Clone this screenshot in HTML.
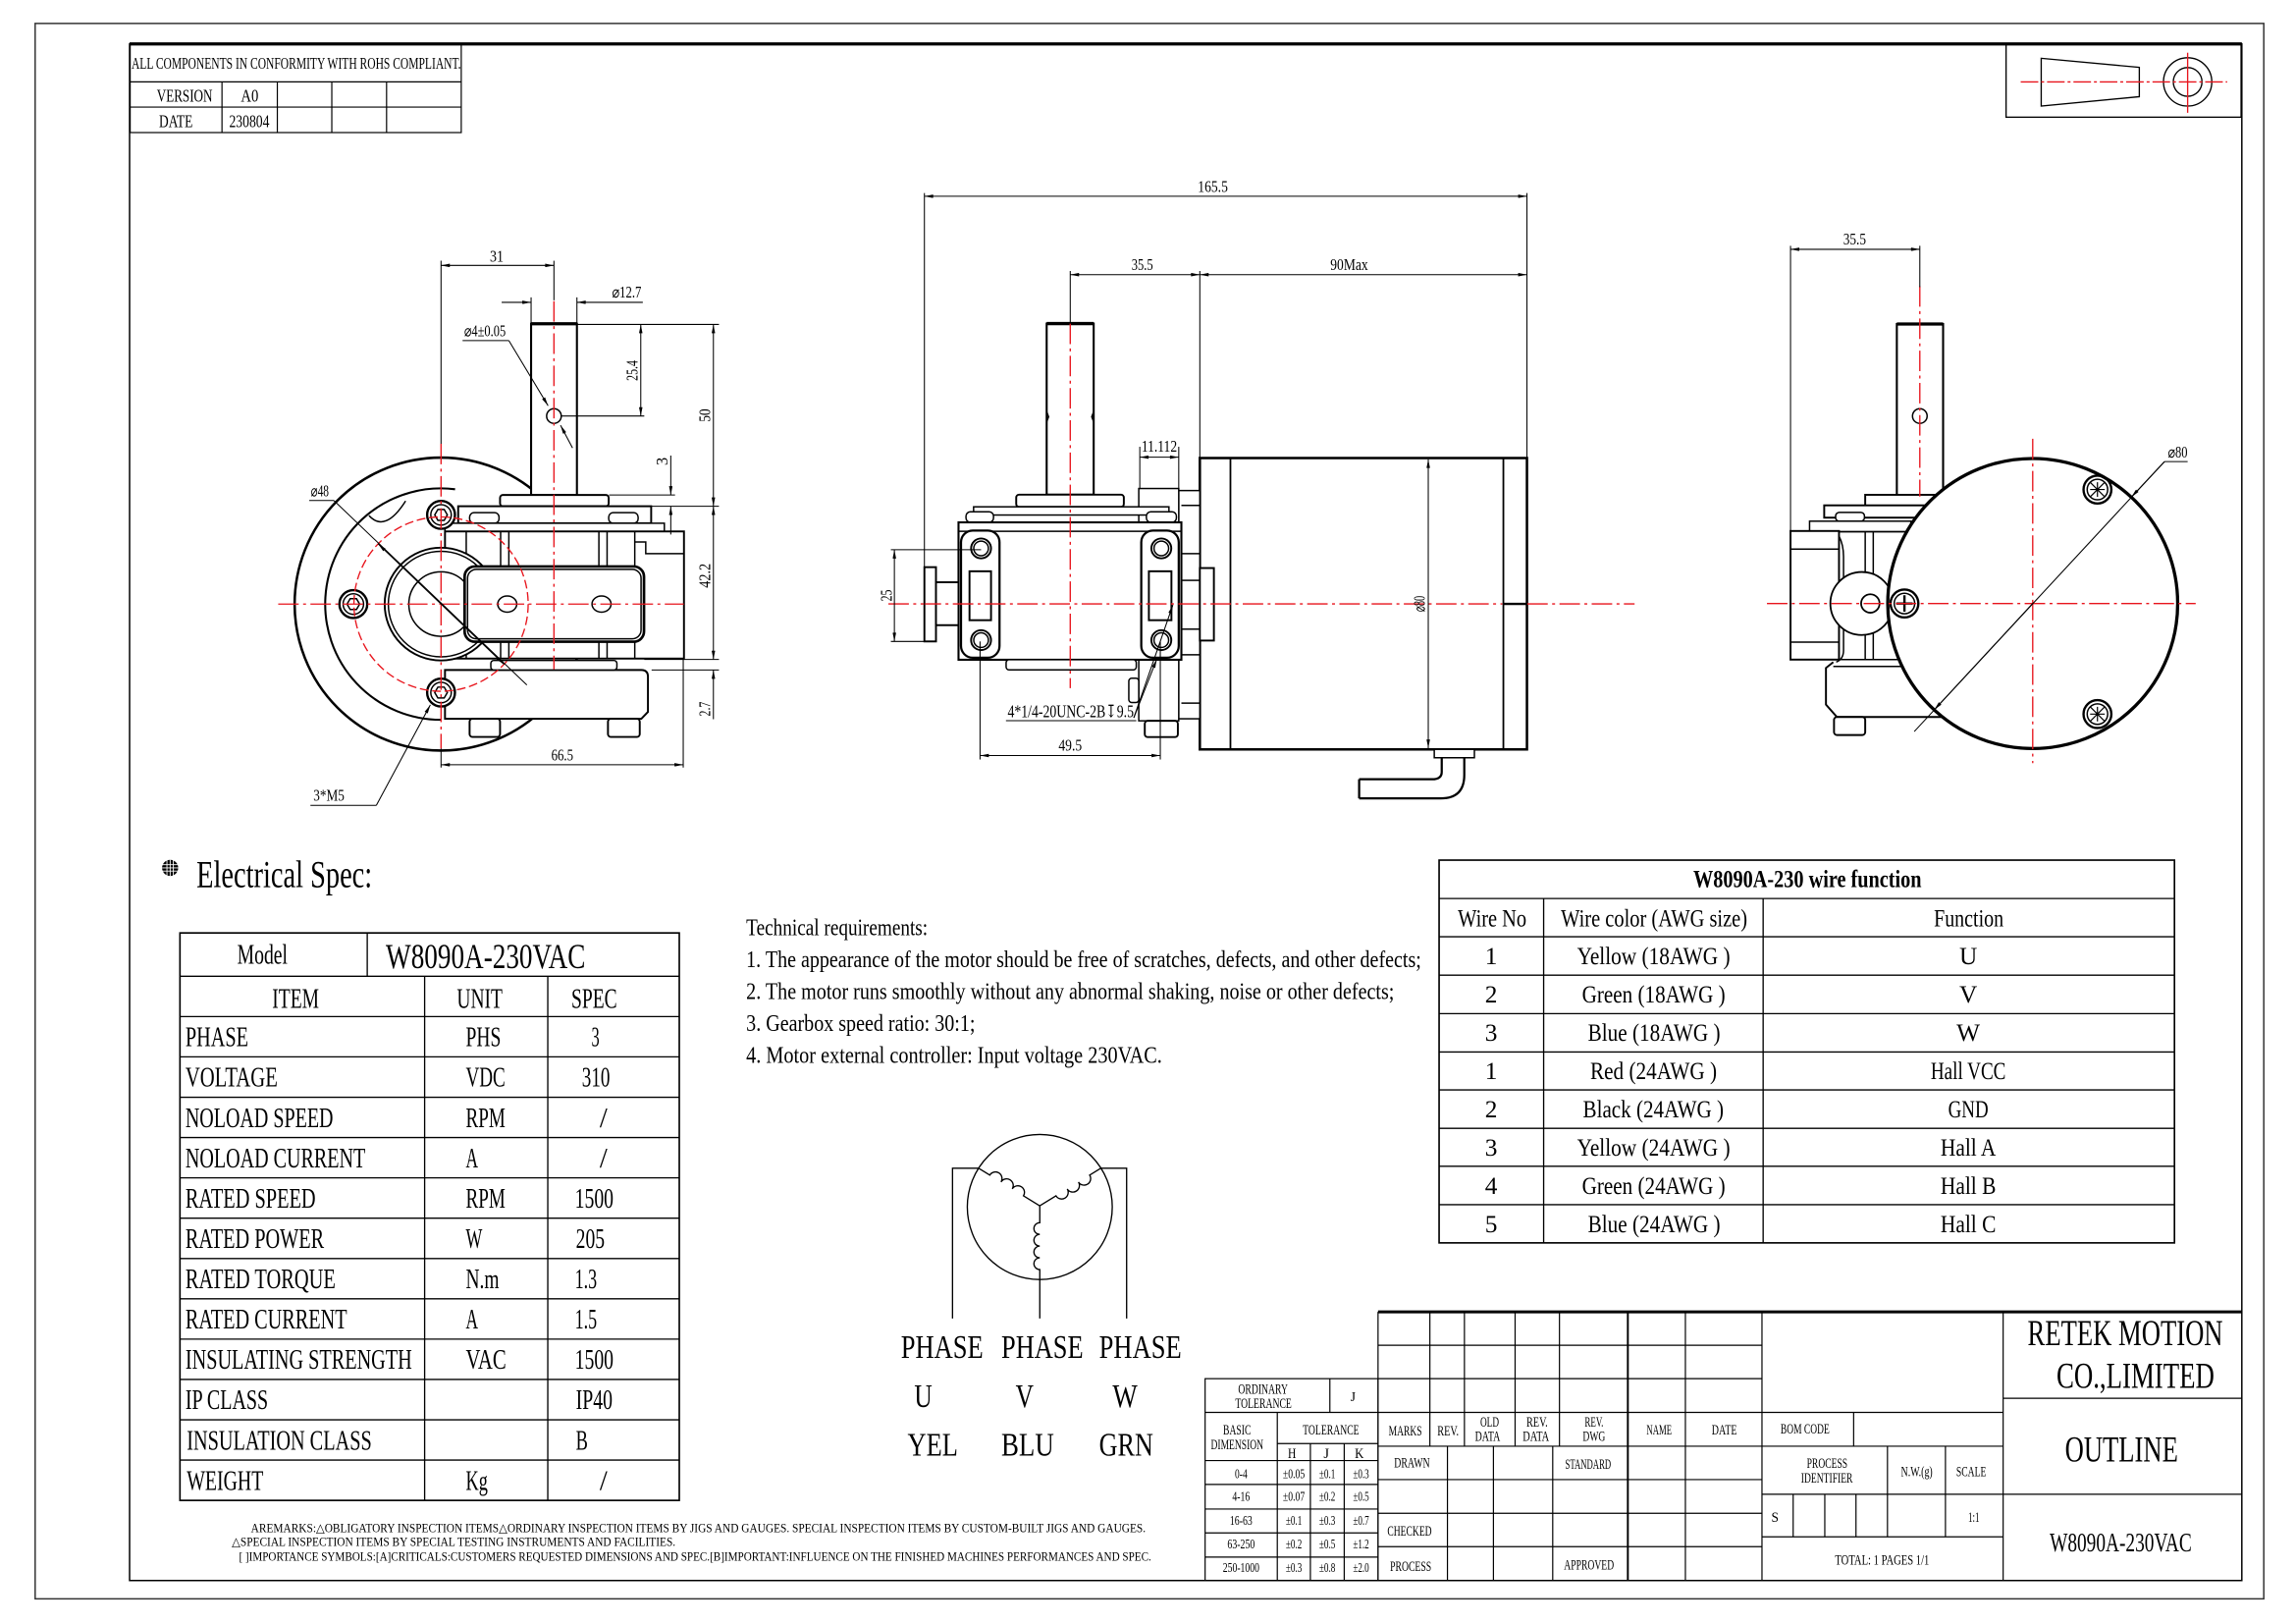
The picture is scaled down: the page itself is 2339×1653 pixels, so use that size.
<!DOCTYPE html>
<html><head><meta charset="utf-8">
<style>
html,body{margin:0;padding:0;background:#fff;}
svg{display:block;}
text{font-family:"Liberation Serif","DejaVu Serif",serif;fill:#000;stroke:none;}
.r{stroke:#e8141c;stroke-width:0.9;fill:none;stroke-dasharray:14 3 2 3;}
</style></head><body>
<svg xmlns="http://www.w3.org/2000/svg" width="2339" height="1653" viewBox="0 0 1568 1108" preserveAspectRatio="none">
<defs>
<marker id="ar" viewBox="0 0 10 4" refX="10" refY="2" markerWidth="7" markerHeight="2.4" markerUnits="userSpaceOnUse" orient="auto-start-reverse"><path d="M0,0L10,2L0,4z" fill="#000"/></marker>
</defs>
<rect x="0" y="0" width="1568" height="1108" fill="#fff"/>
<!-- frames -->
<rect x="24" y="16" width="1522" height="1075.5" fill="none" stroke="#333" stroke-width="1"/>
<rect x="88.5" y="30" width="1442.5" height="1049" fill="none" stroke="#000" stroke-width="1"/>
<line x1="88.5" y1="30" x2="1531" y2="30" stroke="#000" stroke-width="2.2"/>

<!-- top-left table -->
<g stroke="#000" stroke-width="0.8" fill="none">
<rect x="88.9" y="29.7" width="226.1" height="60.8"/>
<line x1="88.9" y1="55.9" x2="315" y2="55.9"/>
<line x1="88.9" y1="73.1" x2="315" y2="73.1"/>
<line x1="151.6" y1="55.9" x2="151.6" y2="90.5"/>
<line x1="189.4" y1="55.9" x2="189.4" y2="90.5"/>
<line x1="226.6" y1="55.9" x2="226.6" y2="90.5"/>
<line x1="264" y1="55.9" x2="264" y2="90.5"/>
</g>
<text x="89.8" y="47" font-size="11" textLength="225" lengthAdjust="spacingAndGlyphs">ALL COMPONENTS IN CONFORMITY WITH ROHS COMPLIANT.</text>
<text x="107.1" y="69.3" font-size="12" textLength="38" lengthAdjust="spacingAndGlyphs">VERSION</text>
<text x="164.5" y="69.3" font-size="12" textLength="12" lengthAdjust="spacingAndGlyphs">A0</text>
<text x="108.6" y="86.7" font-size="12" textLength="23" lengthAdjust="spacingAndGlyphs">DATE</text>
<text x="156.5" y="86.7" font-size="12" textLength="27.5" lengthAdjust="spacingAndGlyphs">230804</text>

<!-- top-right projection symbol -->
<g stroke="#000" stroke-width="0.9" fill="none">
<rect x="1370" y="29.7" width="160.5" height="50.3"/>
<path d="M1394,39.8 L1461,46 L1461,66 L1394,72.4 Z"/>
<circle cx="1494" cy="55.9" r="16.5"/>
<circle cx="1494" cy="55.9" r="9.8"/>
</g>
<line class="r" x1="1380" y1="55.9" x2="1521" y2="55.9" style="stroke-dasharray:12 2 2 2"/>
<line class="r" x1="1494" y1="36" x2="1494" y2="77" style="stroke-dasharray:none"/>

<!-- ================= LEFT VIEW ================= -->
<g stroke="#000" fill="none" stroke-width="1">
<circle cx="301.2" cy="412.4" r="100" fill="#fff" stroke-width="1.7"/>
<path d="M310.8,334 A79,79 0 1 0 301.2,491.4" stroke-width="1.4"/>
<path d="M252,352 Q263,364 277,342"/>
<!-- body -->
<rect x="362.7" y="221" width="31.3" height="116.9" fill="#fff" stroke-width="1.4"/>
<line x1="362.7" y1="221" x2="394" y2="221" stroke-width="2.2"/>
<rect x="341.5" y="337.9" width="74.2" height="7.7" rx="2" fill="#fff" stroke-width="1.3"/>
<rect x="312.9" y="345.6" width="131.8" height="11.6" fill="#fff" stroke-width="1.3"/>
<rect x="320.7" y="350" width="20.1" height="7.2" rx="3" fill="#fff"/>
<rect x="415.7" y="350" width="20.1" height="7.2" rx="3" fill="#fff"/>
<rect x="303.9" y="357.2" width="149.8" height="5.6" fill="#fff"/>
<rect x="303.9" y="362.8" width="163.2" height="86.8" fill="#fff" stroke-width="1.3"/>
<line x1="318.4" y1="362.8" x2="318.4" y2="449.6"/>
<line x1="341.9" y1="362.8" x2="341.9" y2="449.6"/>
<line x1="347.5" y1="362.8" x2="347.5" y2="449.6"/>
<line x1="409" y1="362.8" x2="409" y2="449.6"/>
<line x1="414.6" y1="362.8" x2="414.6" y2="449.6"/>
<line x1="433.5" y1="362.8" x2="433.5" y2="449.6"/>
<path d="M433.5,370 H441 V378 H467"/>
<path d="M303.9,457.4 H438 Q442.5,457.4 442.5,462 V486 L438,490.7 H303.9 Z" fill="#fff" stroke-width="1.3"/>
<rect x="335.2" y="450.9" width="86.1" height="6.5" rx="2" fill="#fff"/>
<rect x="320.7" y="490.7" width="20.8" height="12.4" rx="2" fill="#fff" stroke-width="1.3"/>
<rect x="415.2" y="490.7" width="21.7" height="12.4" rx="2" fill="#fff" stroke-width="1.3"/>
<!-- hub -->
<circle cx="301.2" cy="412.4" r="38.5" fill="#fff" stroke-width="1.3"/>
<circle cx="301.2" cy="412.4" r="36"/>
<circle cx="301.2" cy="412.4" r="22"/>
<!-- side plate -->
<rect x="317.3" y="386.7" width="122.5" height="51.4" rx="7" fill="#fff" stroke-width="1.8"/>
<rect x="319.3" y="388.7" width="118.5" height="47.4" rx="6"/>
<ellipse cx="346.4" cy="412.4" rx="6.5" ry="5.5"/>
<ellipse cx="410.8" cy="412.4" rx="6.5" ry="5.5"/>
<!-- bolt holes -->
<circle cx="301.2" cy="351.5" r="9.5" fill="#fff" stroke-width="1.6"/>
<circle cx="301.2" cy="351.5" r="7"/>
<polygon points="305.5,351.5 303.35,355.22 299.05,355.22 296.9,351.5 299.05,347.78 303.35,347.78"/>
<circle cx="241.3" cy="412.4" r="9.5" fill="#fff" stroke-width="1.6"/>
<circle cx="241.3" cy="412.4" r="7"/>
<polygon points="245.6,412.4 243.45,416.12 239.15,416.12 237,412.4 239.15,408.68 243.45,408.68"/>
<circle cx="301.2" cy="472.8" r="9.5" fill="#fff" stroke-width="1.6"/>
<circle cx="301.2" cy="472.8" r="7"/>
<polygon points="305.5,472.8 303.35,476.52 299.05,476.52 296.9,472.8 299.05,469.08 303.35,469.08"/>
<circle cx="378.3" cy="284" r="5"/>
</g>
<circle cx="301.2" cy="412.4" r="59.5" fill="none" stroke="#e8141c" stroke-width="0.9" stroke-dasharray="6 2.5"/>
<line class="r" x1="190" y1="412.4" x2="467" y2="412.4"/>
<line class="r" x1="301.2" y1="303" x2="301.2" y2="511"/>
<line class="r" x1="378.3" y1="205.6" x2="378.3" y2="457"/>
<!-- left view dims -->
<g stroke="#000" stroke-width="0.7" fill="none">
<line x1="301.2" y1="178" x2="301.2" y2="303"/>
<line x1="378.3" y1="178" x2="378.3" y2="205"/>
<line x1="301.2" y1="181.2" x2="378.3" y2="181.2" marker-start="url(#ar)" marker-end="url(#ar)"/>
<line x1="362.7" y1="203" x2="362.7" y2="221"/>
<line x1="394" y1="203" x2="394" y2="221"/>
<line x1="342.6" y1="206.4" x2="362.7" y2="206.4" marker-end="url(#ar)"/>
<line x1="439" y1="206.4" x2="394" y2="206.4" marker-end="url(#ar)"/>
<line x1="315.9" y1="232.5" x2="347.5" y2="232.5"/>
<line x1="347.5" y1="232.5" x2="374.3" y2="277" marker-end="url(#ar)"/>
<line x1="391" y1="305.8" x2="382.8" y2="290.3" marker-end="url(#ar)"/>
<line x1="394" y1="221.5" x2="491" y2="221.5"/>
<line x1="383" y1="284" x2="440" y2="284"/>
<line x1="437.6" y1="221.5" x2="437.6" y2="284" marker-start="url(#ar)" marker-end="url(#ar)"/>
<line x1="487.2" y1="221.5" x2="487.2" y2="345.6" marker-start="url(#ar)" marker-end="url(#ar)"/>
<line x1="416" y1="337.9" x2="461" y2="337.9"/>
<line x1="445" y1="345.6" x2="491" y2="345.6"/>
<line x1="458.1" y1="311" x2="458.1" y2="337.9" marker-end="url(#ar)"/>
<line x1="458.1" y1="364.9" x2="458.1" y2="345.6" marker-end="url(#ar)"/>
<line x1="487.2" y1="345.6" x2="487.2" y2="450.2" marker-start="url(#ar)" marker-end="url(#ar)"/>
<line x1="440" y1="450.2" x2="491" y2="450.2"/>
<line x1="445" y1="457.4" x2="491" y2="457.4"/>
<line x1="487.2" y1="491" x2="487.2" y2="457.4" marker-end="url(#ar)"/>
<line x1="466.6" y1="449.6" x2="466.6" y2="524"/>
<line x1="301.2" y1="511" x2="301.2" y2="524"/>
<line x1="301.2" y1="522.1" x2="466.6" y2="522.1" marker-start="url(#ar)" marker-end="url(#ar)"/>
<line x1="211.2" y1="341.7" x2="228" y2="341.7"/>
<line x1="228" y1="341.7" x2="359.8" y2="467.6"/>
<line x1="301.2" y1="412.4" x2="258.2" y2="371.3" marker-end="url(#ar)"/>
<line x1="301.2" y1="412.4" x2="344.2" y2="453.5" marker-end="url(#ar)"/>
<line x1="212" y1="549.8" x2="257" y2="549.8"/>
<line x1="257" y1="549.8" x2="293.9" y2="481.2" marker-end="url(#ar)"/>
</g>
<text x="339.2" y="178.5" font-size="11.5" text-anchor="middle" textLength="9.4" lengthAdjust="spacingAndGlyphs">31</text>
<text x="418" y="203" font-size="11" textLength="20" lengthAdjust="spacingAndGlyphs">⌀12.7</text>
<text x="317" y="229.5" font-size="11" textLength="28.4" lengthAdjust="spacingAndGlyphs">⌀4±0.05</text>
<text transform="translate(435.5,253) rotate(-90)" font-size="11" text-anchor="middle" textLength="14" lengthAdjust="spacingAndGlyphs">25.4</text>
<text transform="translate(485,283.6) rotate(-90)" font-size="11" text-anchor="middle" textLength="9" lengthAdjust="spacingAndGlyphs">50</text>
<text transform="translate(456,315) rotate(-90)" font-size="11" text-anchor="middle">3</text>
<text transform="translate(485,393) rotate(-90)" font-size="11" text-anchor="middle" textLength="16.7" lengthAdjust="spacingAndGlyphs">42.2</text>
<text transform="translate(485,484) rotate(-90)" font-size="11" text-anchor="middle" textLength="10" lengthAdjust="spacingAndGlyphs">2.7</text>
<text x="384" y="519" font-size="11.5" text-anchor="middle" textLength="15" lengthAdjust="spacingAndGlyphs">66.5</text>
<text x="212.3" y="339" font-size="11" textLength="12.3" lengthAdjust="spacingAndGlyphs">⌀48</text>
<text x="214" y="546.5" font-size="11.5" textLength="21.2" lengthAdjust="spacingAndGlyphs">3*M5</text>

<!-- ================= MIDDLE VIEW ================= -->
<g stroke="#000" fill="none" stroke-width="1">
<rect x="819.4" y="312.7" width="223.4" height="198.9" fill="#fff" stroke-width="1.7"/>
<line x1="840.3" y1="312.7" x2="840.3" y2="511.6" stroke-width="1.2"/>
<line x1="1026.7" y1="312.7" x2="1026.7" y2="511.6" stroke-width="1.2"/>
<rect x="979.5" y="511.6" width="27.4" height="5.7" fill="#fff"/>
<path d="M1000,517.3 V529 Q1000,545 984,545 H928.2 M984.6,517.3 V527 Q984.6,532 978,532 H928.2 M928.2,532 V545" stroke-width="1.5"/>
<rect x="805" y="334.9" width="14.4" height="155.8" fill="#fff"/>
<line x1="806.8" y1="345" x2="819.4" y2="345"/>
<line x1="806.8" y1="378" x2="819.4" y2="378"/>
<line x1="806.8" y1="447" x2="819.4" y2="447"/>
<line x1="806.8" y1="480" x2="819.4" y2="480"/>
<rect x="777.7" y="333.5" width="27.3" height="23.7" fill="#fff"/>
<rect x="777.7" y="450.4" width="27.3" height="41.7" fill="#fff"/>
<rect x="781.8" y="492.1" width="22.6" height="11.1" rx="2" fill="#fff" stroke-width="1.3"/>
<rect x="806.8" y="396.2" width="12.6" height="33.3" fill="#fff"/>
<rect x="819.4" y="387.8" width="9.6" height="49.5" fill="#fff" stroke-width="1.3"/>
<rect x="770.9" y="463" width="6.8" height="16.6" rx="2" fill="#fff"/>
<rect x="714.8" y="220.9" width="32.1" height="116.8" fill="#fff" stroke-width="1.4"/>
<line x1="714.8" y1="220.9" x2="746.9" y2="220.9" stroke-width="2.2"/>
<path d="M714.8,281 l1.3,3.5 l-1.3,3.5 M746.9,281 l-1.3,3.5 l1.3,3.5"/>
<rect x="694" y="337.7" width="73.5" height="8.3" rx="2" fill="#fff" stroke-width="1.3"/>
<rect x="664.9" y="346" width="133.4" height="5.6" fill="#fff"/>
<rect x="659.7" y="349.4" width="18.8" height="7.2" rx="3" fill="#fff"/>
<rect x="782.9" y="349.4" width="20.5" height="7.2" rx="3" fill="#fff"/>
<rect x="654.6" y="356.6" width="152.2" height="93.8" fill="#fff" stroke-width="1.4"/>
<line x1="654.6" y1="362.7" x2="806.8" y2="362.7"/>
<rect x="656.3" y="362.2" width="26.3" height="86.8" rx="8" fill="#fff" stroke-width="1.5"/>
<rect x="779.4" y="362.2" width="25.6" height="86.8" rx="8" fill="#fff" stroke-width="1.5"/>
<circle cx="670" cy="374.4" r="6.8" stroke-width="1.3"/><circle cx="670" cy="374.4" r="5"/>
<circle cx="670" cy="437" r="6.8" stroke-width="1.3"/><circle cx="670" cy="437" r="5"/>
<circle cx="793.1" cy="374.4" r="6.8" stroke-width="1.3"/><circle cx="793.1" cy="374.4" r="5"/>
<circle cx="793.1" cy="437" r="6.8" stroke-width="1.3"/><circle cx="793.1" cy="437" r="5"/>
<rect x="662.1" y="390" width="14.7" height="33.4" stroke-width="1.3"/>
<rect x="784.6" y="390" width="15.4" height="33.4" stroke-width="1.3"/>
<rect x="687.1" y="450.4" width="88.9" height="6.9" rx="2" fill="#fff"/>
<rect x="631.3" y="387.2" width="7.9" height="50.7" fill="#fff" stroke-width="1.3"/>
<rect x="639.2" y="397.5" width="15.4" height="29.3" fill="#fff" stroke-width="1.3"/>
<line x1="1026.7" y1="412.3" x2="1042.8" y2="412.3" stroke-width="1.6"/>
</g>
<line class="r" x1="730.9" y1="220.9" x2="730.9" y2="469.8"/>
<line class="r" x1="606.7" y1="412.3" x2="1026" y2="412.3"/>
<line class="r" x1="1043" y1="412.3" x2="1116.3" y2="412.3"/>
<g stroke="#000" stroke-width="0.7" fill="none">
<line x1="631.3" y1="131.8" x2="631.3" y2="437.9"/>
<line x1="1042.8" y1="131.8" x2="1042.8" y2="312.7"/>
<line x1="631.3" y1="134" x2="1042.8" y2="134" marker-start="url(#ar)" marker-end="url(#ar)"/>
<line x1="730.9" y1="185" x2="730.9" y2="221"/>
<line x1="819.4" y1="185" x2="819.4" y2="312.7"/>
<line x1="730.9" y1="187.5" x2="819.4" y2="187.5" marker-start="url(#ar)" marker-end="url(#ar)"/>
<line x1="819.4" y1="187.5" x2="1042.8" y2="187.5" marker-start="url(#ar)" marker-end="url(#ar)"/>
<line x1="778.4" y1="305" x2="778.4" y2="334"/>
<line x1="805" y1="305" x2="805" y2="334"/>
<line x1="778.4" y1="312.1" x2="805" y2="312.1" marker-start="url(#ar)" marker-end="url(#ar)"/>
<line x1="608.4" y1="375.3" x2="670" y2="375.3"/>
<line x1="608.4" y1="437.9" x2="631.3" y2="437.9"/>
<line x1="610.8" y1="375.3" x2="610.8" y2="437.9" marker-start="url(#ar)" marker-end="url(#ar)"/>
<line x1="975.4" y1="313.5" x2="975.4" y2="510.8" marker-start="url(#ar)" marker-end="url(#ar)"/>
<line x1="669.3" y1="437.9" x2="669.3" y2="518.5"/>
<line x1="792.4" y1="437.9" x2="792.4" y2="518.5"/>
<line x1="669.3" y1="515.8" x2="792.4" y2="515.8" marker-start="url(#ar)" marker-end="url(#ar)"/>
<line x1="687" y1="492" x2="776" y2="492"/>
<line x1="774.3" y1="490" x2="801" y2="413" marker-end="url(#ar)"/>
<line x1="774.3" y1="490" x2="790" y2="450" marker-end="url(#ar)"/>
</g>
<text x="828.3" y="131" font-size="11.5" text-anchor="middle" textLength="20.5" lengthAdjust="spacingAndGlyphs">165.5</text>
<text x="780.1" y="184.5" font-size="11.5" text-anchor="middle" textLength="14.7" lengthAdjust="spacingAndGlyphs">35.5</text>
<text x="921.4" y="184.5" font-size="11.5" text-anchor="middle" textLength="25.7" lengthAdjust="spacingAndGlyphs">90Max</text>
<text x="791.7" y="308.5" font-size="11" text-anchor="middle" textLength="24.3" lengthAdjust="spacingAndGlyphs">11.112</text>
<text transform="translate(609,406.5) rotate(-90)" font-size="11" text-anchor="middle" textLength="8" lengthAdjust="spacingAndGlyphs">25</text>
<text transform="translate(973,412.3) rotate(-90)" font-size="11" text-anchor="middle" textLength="11" lengthAdjust="spacingAndGlyphs">⌀80</text>
<text x="730.9" y="512.5" font-size="11.5" text-anchor="middle" textLength="16" lengthAdjust="spacingAndGlyphs">49.5</text>
<text x="688.1" y="489.5" font-size="12" textLength="86.2" lengthAdjust="spacingAndGlyphs">4*1/4-20UNC-2B↧9.5</text>

<!-- ================= RIGHT VIEW ================= -->
<g stroke="#000" fill="none" stroke-width="1">
<rect x="1295.4" y="221.2" width="31.6" height="117.8" fill="#fff" stroke-width="1.4"/>
<line x1="1295.4" y1="221.2" x2="1327" y2="221.2" stroke-width="2.2"/>
<circle cx="1311.1" cy="284" r="5"/>
<rect x="1273.8" y="337.8" width="53.6" height="8.4" fill="#fff" stroke-width="1.3"/>
<rect x="1245.8" y="345" width="70.4" height="8.4" fill="#fff" stroke-width="1.3"/>
<rect x="1253.6" y="349.8" width="19.7" height="6" rx="2.5" fill="#fff"/>
<rect x="1235.8" y="355.8" width="69.2" height="7.2" fill="#fff"/>
<rect x="1222.8" y="362.5" width="33.1" height="87.8" fill="#fff" stroke-width="1.3"/>
<line x1="1222.8" y1="374.9" x2="1255.9" y2="374.9"/>
<line x1="1222.8" y1="438.4" x2="1255.9" y2="438.4"/>
<path d="M1255.9,363 H1320 M1255.9,450.3 H1320" />
<line x1="1273.8" y1="363" x2="1273.8" y2="450.3"/>
<line x1="1279.3" y1="363" x2="1279.3" y2="450.3"/>
<path d="M1255.9,366 Q1259,372 1259,380 V444 Q1259,450 1254,452"/>
<circle cx="1271.5" cy="412" r="21.5" fill="#fff" stroke-width="1.2"/>
<circle cx="1277.3" cy="412" r="6.3" stroke-width="1.2"/>
<path d="M1252,452 L1247,456 V481 L1254.5,489.5 H1330" fill="#fff" stroke-width="1.3"/>
<line x1="1252" y1="455" x2="1320" y2="455"/>
<rect x="1252.5" y="489.5" width="21.3" height="12.3" rx="2" fill="#fff" stroke-width="1.3"/>
<circle cx="1388.2" cy="412" r="99" fill="#fff" stroke-width="2.2"/>
<circle cx="1432.4" cy="334.2" r="9.5" stroke-width="1.6"/><circle cx="1432.4" cy="334.2" r="7"/>
<path d="M1427.5,329.3 L1437.3,339.1 M1437.3,329.3 L1427.5,339.1 M1427.4,334.2 H1437.4 M1432.4,329.2 V339.2" stroke-width="0.8"/>
<circle cx="1432.4" cy="487.5" r="9.5" stroke-width="1.6"/><circle cx="1432.4" cy="487.5" r="7"/>
<path d="M1427.5,482.6 L1437.3,492.4 M1437.3,482.6 L1427.5,492.4 M1427.4,487.5 H1437.4 M1432.4,482.5 V492.5" stroke-width="0.8"/>
<circle cx="1300.6" cy="412" r="9.5" fill="#fff" stroke-width="1.6"/><circle cx="1300.6" cy="412" r="7"/>
<path d="M1295,412 H1306.2 M1300.6,406.4 V417.6" stroke-width="1.6"/>
</g>
<line class="r" x1="1311.1" y1="195.4" x2="1311.1" y2="339"/>
<line class="r" x1="1388.2" y1="299.5" x2="1388.2" y2="521"/>
<line class="r" x1="1206.7" y1="412" x2="1499.5" y2="412"/>
<g stroke="#000" stroke-width="0.7" fill="none">
<line x1="1222.8" y1="167.8" x2="1222.8" y2="362.5"/>
<line x1="1311.1" y1="167.8" x2="1311.1" y2="196"/>
<line x1="1222.8" y1="170.2" x2="1311.1" y2="170.2" marker-start="url(#ar)" marker-end="url(#ar)"/>
<line x1="1307.3" y1="499.4" x2="1478.2" y2="315.1"/>
<line x1="1478.2" y1="315.1" x2="1494" y2="315.1"/>
<line x1="1478.2" y1="315.1" x2="1455.5" y2="339.4" marker-end="url(#ar)"/>
<line x1="1388.2" y1="412" x2="1320.9" y2="484.6" marker-end="url(#ar)"/>
</g>
<text x="1266.6" y="167" font-size="11.5" text-anchor="middle" textLength="15.6" lengthAdjust="spacingAndGlyphs">35.5</text>
<text x="1480.5" y="312.5" font-size="11" textLength="13.4" lengthAdjust="spacingAndGlyphs">⌀80</text>

<!-- ================= ELECTRICAL SPEC ================= -->
<circle cx="116.2" cy="592.5" r="5.5" fill="#000"/>
<g stroke="#fff" stroke-width="0.6">
<line x1="110.7" y1="590.3" x2="121.7" y2="590.3"/><line x1="110.7" y1="592.5" x2="121.7" y2="592.5"/><line x1="110.7" y1="594.7" x2="121.7" y2="594.7"/>
<line x1="114" y1="587" x2="114" y2="598"/><line x1="116.2" y1="587" x2="116.2" y2="598"/><line x1="118.4" y1="587" x2="118.4" y2="598"/>
</g>
<text x="134.2" y="605.5" font-size="26" textLength="120" lengthAdjust="spacingAndGlyphs">Electrical Spec:</text>
<g stroke="#000" stroke-width="0.9" fill="none">
<rect x="122.9" y="636.9" width="341" height="387.4" stroke-width="1.1"/>
<line x1="122.9" y1="666.5" x2="463.9" y2="666.5"/>
<line x1="122.9" y1="694" x2="463.9" y2="694"/>
<line x1="122.9" y1="721.5" x2="463.9" y2="721.5"/>
<line x1="122.9" y1="749.1" x2="463.9" y2="749.1"/>
<line x1="122.9" y1="776.6" x2="463.9" y2="776.6"/>
<line x1="122.9" y1="804.1" x2="463.9" y2="804.1"/>
<line x1="122.9" y1="831.6" x2="463.9" y2="831.6"/>
<line x1="122.9" y1="859.2" x2="463.9" y2="859.2"/>
<line x1="122.9" y1="886.7" x2="463.9" y2="886.7"/>
<line x1="122.9" y1="914.2" x2="463.9" y2="914.2"/>
<line x1="122.9" y1="941.7" x2="463.9" y2="941.7"/>
<line x1="122.9" y1="969.3" x2="463.9" y2="969.3"/>
<line x1="122.9" y1="996.8" x2="463.9" y2="996.8"/>
<line x1="250.8" y1="636.9" x2="250.8" y2="666.5"/>
<line x1="290" y1="666.5" x2="290" y2="1024.3"/>
<line x1="374.1" y1="666.5" x2="374.1" y2="1024.3"/>
</g>
<g font-size="19">
<text x="162" y="658" textLength="34.4" lengthAdjust="spacingAndGlyphs">Model</text>
<text x="263.5" y="661" font-size="24" textLength="136.3" lengthAdjust="spacingAndGlyphs">W8090A-230VAC</text>
<text x="185.9" y="688" textLength="32" lengthAdjust="spacingAndGlyphs">ITEM</text>
<text x="312" y="688" textLength="31.2" lengthAdjust="spacingAndGlyphs">UNIT</text>
<text x="390.2" y="688" textLength="31.2" lengthAdjust="spacingAndGlyphs">SPEC</text>
<text x="126.6" y="714.3" textLength="43" lengthAdjust="spacingAndGlyphs">PHASE</text>
<text x="126.6" y="741.8" textLength="63" lengthAdjust="spacingAndGlyphs">VOLTAGE</text>
<text x="126.6" y="769.4" textLength="101" lengthAdjust="spacingAndGlyphs">NOLOAD SPEED</text>
<text x="126.6" y="796.9" textLength="123" lengthAdjust="spacingAndGlyphs">NOLOAD CURRENT</text>
<text x="126.6" y="824.4" textLength="89" lengthAdjust="spacingAndGlyphs">RATED SPEED</text>
<text x="126.6" y="851.9" textLength="94.7" lengthAdjust="spacingAndGlyphs">RATED POWER</text>
<text x="126.6" y="879.5" textLength="102.6" lengthAdjust="spacingAndGlyphs">RATED TORQUE</text>
<text x="126.6" y="907" textLength="110.5" lengthAdjust="spacingAndGlyphs">RATED CURRENT</text>
<text x="126.6" y="934.5" textLength="154.8" lengthAdjust="spacingAndGlyphs">INSULATING STRENGTH</text>
<text x="126.6" y="962" textLength="56.5" lengthAdjust="spacingAndGlyphs">IP CLASS</text>
<text x="127.5" y="989.6" textLength="126.4" lengthAdjust="spacingAndGlyphs">INSULATION CLASS</text>
<text x="127.5" y="1017.1" textLength="52.4" lengthAdjust="spacingAndGlyphs">WEIGHT</text>
<text x="318.1" y="714.3" textLength="24" lengthAdjust="spacingAndGlyphs">PHS</text>
<text x="318.1" y="741.8" textLength="27" lengthAdjust="spacingAndGlyphs">VDC</text>
<text x="318.1" y="769.4" textLength="27" lengthAdjust="spacingAndGlyphs">RPM</text>
<text x="318.1" y="796.9" textLength="8.4" lengthAdjust="spacingAndGlyphs">A</text>
<text x="318.1" y="824.4" textLength="27" lengthAdjust="spacingAndGlyphs">RPM</text>
<text x="318.1" y="851.9" textLength="11.3" lengthAdjust="spacingAndGlyphs">W</text>
<text x="318.1" y="879.5" textLength="22.8" lengthAdjust="spacingAndGlyphs">N.m</text>
<text x="318.1" y="907" textLength="8.4" lengthAdjust="spacingAndGlyphs">A</text>
<text x="318.1" y="934.5" textLength="27.6" lengthAdjust="spacingAndGlyphs">VAC</text>
<text x="318.1" y="1017.1" textLength="15" lengthAdjust="spacingAndGlyphs">Kg</text>
<text x="403.9" y="714.3" textLength="5.5" lengthAdjust="spacingAndGlyphs">3</text>
<text x="397.4" y="741.8" textLength="19.2" lengthAdjust="spacingAndGlyphs">310</text>
<text x="409.5" y="769.4">/</text>
<text x="409.5" y="796.9">/</text>
<text x="392.6" y="824.4" textLength="26.4" lengthAdjust="spacingAndGlyphs">1500</text>
<text x="393.3" y="851.9" textLength="19.7" lengthAdjust="spacingAndGlyphs">205</text>
<text x="392.6" y="879.5" textLength="15.1" lengthAdjust="spacingAndGlyphs">1.3</text>
<text x="392.6" y="907" textLength="15.1" lengthAdjust="spacingAndGlyphs">1.5</text>
<text x="392.6" y="934.5" textLength="26.4" lengthAdjust="spacingAndGlyphs">1500</text>
<text x="393.3" y="962" textLength="25" lengthAdjust="spacingAndGlyphs">IP40</text>
<text x="393.3" y="989.6" textLength="8.2" lengthAdjust="spacingAndGlyphs">B</text>
<text x="409.5" y="1017.1">/</text>
</g>

<!-- ================= TECH REQUIREMENTS ================= -->
<g font-size="16">
<text x="509.6" y="638.5" textLength="124" lengthAdjust="spacingAndGlyphs">Technical requirements:</text>
<text x="509.6" y="660.3" textLength="461" lengthAdjust="spacingAndGlyphs">1. The appearance of the motor should be free of scratches, defects, and other defects;</text>
<text x="509.6" y="682.1" textLength="442.6" lengthAdjust="spacingAndGlyphs">2. The motor runs smoothly without any abnormal shaking, noise or other defects;</text>
<text x="509.6" y="703.9" textLength="156.4" lengthAdjust="spacingAndGlyphs">3. Gearbox speed ratio: 30:1;</text>
<text x="509.6" y="725.7" textLength="284" lengthAdjust="spacingAndGlyphs">4. Motor external controller: Input voltage 230VAC.</text>
</g>

<!-- phase diagram -->
<g stroke="#000" stroke-width="0.9" fill="none">
<circle cx="710.1" cy="824" r="49.5"/>
<path d="M650.5,900.1 V797.5 H668.3"/>
<path d="M769.4,900.1 V797.5 H751.9"/>
<line x1="710.1" y1="873.5" x2="710.1" y2="900.1"/>
<g transform="translate(668.3,797.5) rotate(31.6)"><path d="M0,0 L9,0 A4.5,4.5 0 0 1 18,0 A4.5,4.5 0 0 1 27,0 A4.5,4.5 0 0 1 36,0 L49.1,0"/></g>
<g transform="translate(710.1,823.2) rotate(-31.6)"><path d="M0,0 L13,0 A4.5,4.5 0 0 0 22,0 A4.5,4.5 0 0 0 31,0 A4.5,4.5 0 0 0 40,0 L49.1,0"/></g>
<g transform="translate(710.1,823.2) rotate(90)"><path d="M0,0 L11.5,0 A4,4 0 0 0 19.5,0 A4,4 0 0 0 27.5,0 A4,4 0 0 0 35.5,0 A4,4 0 0 0 43.5,0 L50.3,0"/></g>
</g>
<g font-size="23">
<text x="615.2" y="927.1" textLength="56.3" lengthAdjust="spacingAndGlyphs">PHASE</text>
<text x="683.8" y="927.1" textLength="56" lengthAdjust="spacingAndGlyphs">PHASE</text>
<text x="750.6" y="927.1" textLength="56.3" lengthAdjust="spacingAndGlyphs">PHASE</text>
<text x="624.4" y="960.4" textLength="12.3" lengthAdjust="spacingAndGlyphs">U</text>
<text x="693.6" y="960.4" textLength="12.3" lengthAdjust="spacingAndGlyphs">V</text>
<text x="759.8" y="960.4" textLength="17" lengthAdjust="spacingAndGlyphs">W</text>
<text x="619.8" y="993.8" textLength="34.4" lengthAdjust="spacingAndGlyphs">YEL</text>
<text x="683.8" y="993.8" textLength="36" lengthAdjust="spacingAndGlyphs">BLU</text>
<text x="750.6" y="993.8" textLength="37" lengthAdjust="spacingAndGlyphs">GRN</text>
</g>

<!-- ================= WIRE TABLE ================= -->
<g stroke="#000" stroke-width="0.9" fill="none">
<rect x="982.8" y="587.2" width="502.2" height="261.3" stroke-width="1.1"/>
<line x1="982.8" y1="613.4" x2="1485" y2="613.4"/>
<line x1="982.8" y1="639.5" x2="1485" y2="639.5"/>
<line x1="982.8" y1="665.7" x2="1485" y2="665.7"/>
<line x1="982.8" y1="692" x2="1485" y2="692"/>
<line x1="982.8" y1="718.2" x2="1485" y2="718.2"/>
<line x1="982.8" y1="744.1" x2="1485" y2="744.1"/>
<line x1="982.8" y1="770.3" x2="1485" y2="770.3"/>
<line x1="982.8" y1="796.2" x2="1485" y2="796.2"/>
<line x1="982.8" y1="822.4" x2="1485" y2="822.4"/>
<line x1="1054.2" y1="613.4" x2="1054.2" y2="848.5"/>
<line x1="1204.1" y1="613.4" x2="1204.1" y2="848.5"/>
</g>
<g font-size="17">
<text x="1156.4" y="605.6" font-weight="bold" textLength="155.9" lengthAdjust="spacingAndGlyphs">W8090A-230 wire function</text>
<text x="995.6" y="632.4" textLength="46.9" lengthAdjust="spacingAndGlyphs">Wire No</text>
<text x="1066" y="632.4" textLength="127.3" lengthAdjust="spacingAndGlyphs">Wire color (AWG size)</text>
<text x="1320.7" y="632.4" textLength="47.6" lengthAdjust="spacingAndGlyphs">Function</text>
<g text-anchor="middle">
<text x="1018.4" y="658.3">1</text>
<text x="1018.4" y="684.5">2</text>
<text x="1018.4" y="710.6">3</text>
<text x="1018.4" y="736.7">1</text>
<text x="1018.4" y="762.9">2</text>
<text x="1018.4" y="789">3</text>
<text x="1018.4" y="815.1">4</text>
<text x="1018.4" y="841.3">5</text>
<text x="1344.2" y="658.3">U</text>
<text x="1344.2" y="684.5">V</text>
<text x="1344.2" y="710.6">W</text>
<text x="1344.2" y="736.7" textLength="51.3" lengthAdjust="spacingAndGlyphs">Hall VCC</text>
<text x="1344.2" y="762.9" textLength="27.5" lengthAdjust="spacingAndGlyphs">GND</text>
<text x="1344.2" y="789" textLength="37.9" lengthAdjust="spacingAndGlyphs">Hall  A</text>
<text x="1344.2" y="815.1" textLength="37.9" lengthAdjust="spacingAndGlyphs">Hall  B</text>
<text x="1344.2" y="841.3" textLength="37.9" lengthAdjust="spacingAndGlyphs">Hall  C</text>
</g>
<text x="1077" y="658.3" textLength="104.6" lengthAdjust="spacingAndGlyphs">Yellow  (18AWG )</text>
<text x="1080.4" y="684.5" textLength="97.9" lengthAdjust="spacingAndGlyphs">Green  (18AWG )</text>
<text x="1084.4" y="710.6" textLength="90.5" lengthAdjust="spacingAndGlyphs">Blue  (18AWG )</text>
<text x="1086" y="736.7" textLength="86.5" lengthAdjust="spacingAndGlyphs">Red  (24AWG )</text>
<text x="1081" y="762.9" textLength="96.2" lengthAdjust="spacingAndGlyphs">Black  (24AWG )</text>
<text x="1077" y="789" textLength="104.6" lengthAdjust="spacingAndGlyphs">Yellow  (24AWG )</text>
<text x="1080.4" y="815.1" textLength="97.9" lengthAdjust="spacingAndGlyphs">Green  (24AWG )</text>
<text x="1084.4" y="841.3" textLength="90.5" lengthAdjust="spacingAndGlyphs">Blue  (24AWG )</text>
</g>

<!-- ================= TITLE BLOCK ================= -->
<g stroke="#000" stroke-width="0.8" fill="none">
<line x1="941.1" y1="895.6" x2="1531" y2="895.6" stroke-width="2"/>
<!-- tolerance table -->
<rect x="823" y="941.2" width="118.1" height="137.7"/>
<line x1="823" y1="964.2" x2="941.1" y2="964.2"/>
<line x1="872.3" y1="985.5" x2="941.1" y2="985.5"/>
<line x1="823" y1="997.1" x2="941.1" y2="997.1"/>
<line x1="823" y1="1013.4" x2="941.1" y2="1013.4"/>
<line x1="823" y1="1030.2" x2="941.1" y2="1030.2"/>
<line x1="823" y1="1046.5" x2="941.1" y2="1046.5"/>
<line x1="823" y1="1063" x2="941.1" y2="1063"/>
<line x1="908.2" y1="941.2" x2="908.2" y2="964.2"/>
<line x1="872.3" y1="964.2" x2="872.3" y2="1078.9"/>
<line x1="894.9" y1="985.5" x2="894.9" y2="1078.9"/>
<line x1="918" y1="985.5" x2="918" y2="1078.9"/>
<!-- revision grid -->
<line x1="941.1" y1="895.6" x2="941.1" y2="1078.9"/>
<line x1="941.1" y1="918.4" x2="1203.3" y2="918.4"/>
<line x1="941.1" y1="941.2" x2="1203.3" y2="941.2"/>
<line x1="941.1" y1="964.2" x2="1368" y2="964.2"/>
<line x1="941.1" y1="987.3" x2="1368" y2="987.3"/>
<line x1="941.1" y1="1010.1" x2="1203.3" y2="1010.1"/>
<line x1="941.1" y1="1033.1" x2="1203.3" y2="1033.1"/>
<line x1="941.1" y1="1055.9" x2="1203.3" y2="1055.9"/>
<line x1="976.5" y1="895.6" x2="976.5" y2="987.3"/>
<line x1="1000.1" y1="895.6" x2="1000.1" y2="987.3"/>
<line x1="1034.7" y1="895.6" x2="1034.7" y2="987.3"/>
<line x1="1065" y1="895.6" x2="1065" y2="987.3"/>
<line x1="988.5" y1="987.3" x2="988.5" y2="1078.9"/>
<line x1="1019.9" y1="987.3" x2="1019.9" y2="1078.9"/>
<line x1="1060.4" y1="987.3" x2="1060.4" y2="1078.9"/>
<line x1="1111.7" y1="895.6" x2="1111.7" y2="1078.9" stroke-width="1.3"/>
<line x1="1151" y1="895.6" x2="1151" y2="1078.9"/>
<line x1="1203.3" y1="895.6" x2="1203.3" y2="1078.9"/>
<!-- middle block -->
<line x1="1265.9" y1="964.2" x2="1265.9" y2="987.3"/>
<line x1="1203.3" y1="1020.1" x2="1531" y2="1020.1"/>
<line x1="1203.3" y1="1049.2" x2="1368" y2="1049.2"/>
<line x1="1289" y1="987.3" x2="1289" y2="1049.2"/>
<line x1="1328.6" y1="987.3" x2="1328.6" y2="1049.2"/>
<line x1="1224.6" y1="1020.1" x2="1224.6" y2="1049.2"/>
<line x1="1246.2" y1="1020.1" x2="1246.2" y2="1049.2"/>
<line x1="1267.5" y1="1020.1" x2="1267.5" y2="1049.2"/>
<line x1="1368" y1="895.6" x2="1368" y2="1078.9"/>
<line x1="1368" y1="954.6" x2="1531" y2="954.6"/>
</g>
<g font-size="10">
<text x="845.6" y="951.5" textLength="33.9" lengthAdjust="spacingAndGlyphs">ORDINARY</text>
<text x="843.6" y="961.3" textLength="38.5" lengthAdjust="spacingAndGlyphs">TOLERANCE</text>
<text x="922.3" y="956.4" font-size="9">J</text>
<text x="835.3" y="979.2" textLength="19" lengthAdjust="spacingAndGlyphs">BASIC</text>
<text x="826.9" y="989.3" textLength="35.9" lengthAdjust="spacingAndGlyphs">DIMENSION</text>
<text x="889.7" y="979.2" textLength="38.5" lengthAdjust="spacingAndGlyphs">TOLERANCE</text>
<text x="879.5" y="995.5" textLength="5.6" lengthAdjust="spacingAndGlyphs">H</text>
<text x="903.9" y="995.5" textLength="3.8" lengthAdjust="spacingAndGlyphs">J</text>
<text x="925.2" y="995.5" textLength="6.2" lengthAdjust="spacingAndGlyphs">K</text>
<g text-anchor="middle" font-size="9">
<text x="847.6" y="1009" textLength="8.5" lengthAdjust="spacingAndGlyphs">0-4</text>
<text x="847.6" y="1024.6" textLength="12" lengthAdjust="spacingAndGlyphs">4-16</text>
<text x="847.6" y="1040.9" textLength="15.4" lengthAdjust="spacingAndGlyphs">16-63</text>
<text x="847.6" y="1057" textLength="18.7" lengthAdjust="spacingAndGlyphs">63-250</text>
<text x="847.6" y="1073.1" textLength="24.9" lengthAdjust="spacingAndGlyphs">250-1000</text>
<text x="883.6" y="1009" textLength="15" lengthAdjust="spacingAndGlyphs">±0.05</text>
<text x="883.6" y="1024.6" textLength="15" lengthAdjust="spacingAndGlyphs">±0.07</text>
<text x="883.6" y="1040.9" textLength="11" lengthAdjust="spacingAndGlyphs">±0.1</text>
<text x="883.6" y="1057" textLength="11" lengthAdjust="spacingAndGlyphs">±0.2</text>
<text x="883.6" y="1073.1" textLength="11" lengthAdjust="spacingAndGlyphs">±0.3</text>
<text x="906.4" y="1009" textLength="11" lengthAdjust="spacingAndGlyphs">±0.1</text>
<text x="906.4" y="1024.6" textLength="11" lengthAdjust="spacingAndGlyphs">±0.2</text>
<text x="906.4" y="1040.9" textLength="11" lengthAdjust="spacingAndGlyphs">±0.3</text>
<text x="906.4" y="1057" textLength="11" lengthAdjust="spacingAndGlyphs">±0.5</text>
<text x="906.4" y="1073.1" textLength="11" lengthAdjust="spacingAndGlyphs">±0.8</text>
<text x="929.5" y="1009" textLength="11" lengthAdjust="spacingAndGlyphs">±0.3</text>
<text x="929.5" y="1024.6" textLength="11" lengthAdjust="spacingAndGlyphs">±0.5</text>
<text x="929.5" y="1040.9" textLength="11" lengthAdjust="spacingAndGlyphs">±0.7</text>
<text x="929.5" y="1057" textLength="11" lengthAdjust="spacingAndGlyphs">±1.2</text>
<text x="929.5" y="1073.1" textLength="11" lengthAdjust="spacingAndGlyphs">±2.0</text>
</g>
<text x="948.3" y="979.9" textLength="22.8" lengthAdjust="spacingAndGlyphs">MARKS</text>
<text x="981.6" y="979.9" textLength="14.6" lengthAdjust="spacingAndGlyphs">REV.</text>
<text x="1010.9" y="973.9" textLength="12.8" lengthAdjust="spacingAndGlyphs">OLD</text>
<text x="1007.3" y="983.7" textLength="17.2" lengthAdjust="spacingAndGlyphs">DATA</text>
<text x="1042.4" y="973.9" textLength="14.6" lengthAdjust="spacingAndGlyphs">REV.</text>
<text x="1039.9" y="983.7" textLength="18" lengthAdjust="spacingAndGlyphs">DATA</text>
<text x="1082.2" y="973.9" textLength="12.8" lengthAdjust="spacingAndGlyphs">REV.</text>
<text x="1080.9" y="983.7" textLength="15.4" lengthAdjust="spacingAndGlyphs">DWG</text>
<text x="1124.5" y="979.4" textLength="17.2" lengthAdjust="spacingAndGlyphs">NAME</text>
<text x="1169" y="979.4" textLength="17.2" lengthAdjust="spacingAndGlyphs">DATE</text>
<text x="952.1" y="1001.6" textLength="24.4" lengthAdjust="spacingAndGlyphs">DRAWN</text>
<text x="1068.9" y="1002.9" textLength="31.3" lengthAdjust="spacingAndGlyphs">STANDARD</text>
<text x="947.5" y="1048.5" textLength="30.3" lengthAdjust="spacingAndGlyphs">CHECKED</text>
<text x="949.3" y="1072.6" textLength="28.2" lengthAdjust="spacingAndGlyphs">PROCESS</text>
<text x="1068.1" y="1071.5" textLength="34.1" lengthAdjust="spacingAndGlyphs">APPROVED</text>
<text x="1216" y="978.8" textLength="33.4" lengthAdjust="spacingAndGlyphs">BOM CODE</text>
<text x="1233.9" y="1002.2" textLength="27.8" lengthAdjust="spacingAndGlyphs">PROCESS</text>
<text x="1230" y="1012.3" textLength="35.3" lengthAdjust="spacingAndGlyphs">IDENTIFIER</text>
<text x="1298.2" y="1007.8" textLength="21.6" lengthAdjust="spacingAndGlyphs">N.W.(g)</text>
<text x="1336" y="1007.8" textLength="20.4" lengthAdjust="spacingAndGlyphs">SCALE</text>
<text x="1209.7" y="1039.1" textLength="5" lengthAdjust="spacingAndGlyphs">S</text>
<text x="1344.1" y="1039.1" textLength="7.7" lengthAdjust="spacingAndGlyphs">1:1</text>
<text x="1253.2" y="1068.2" textLength="64.3" lengthAdjust="spacingAndGlyphs">TOTAL: 1  PAGES   1/1</text>
</g>
<text x="1384.7" y="918.4" font-size="25" textLength="133.4" lengthAdjust="spacingAndGlyphs">RETEK MOTION</text>
<text x="1404.4" y="947.5" font-size="25" textLength="107.9" lengthAdjust="spacingAndGlyphs">CO.,LIMITED</text>
<text x="1410.2" y="997.8" font-size="25" textLength="77.3" lengthAdjust="spacingAndGlyphs">OUTLINE</text>
<text x="1399.8" y="1059.2" font-size="18.5" textLength="97" lengthAdjust="spacingAndGlyphs">W8090A-230VAC</text>

<!-- notes -->
<g font-size="8.5">
<text x="171.4" y="1046" textLength="611" lengthAdjust="spacingAndGlyphs">AREMARKS:△OBLIGATORY INSPECTION ITEMS△ORDINARY INSPECTION ITEMS BY JIGS AND GAUGES.     SPECIAL INSPECTION ITEMS BY CUSTOM-BUILT JIGS AND GAUGES.</text>
<text x="158.3" y="1055.5" textLength="303" lengthAdjust="spacingAndGlyphs">△SPECIAL INSPECTION ITEMS BY SPECIAL TESTING INSTRUMENTS AND FACILITIES.</text>
<text x="163.2" y="1065.5" textLength="623" lengthAdjust="spacingAndGlyphs">[ ]IMPORTANCE SYMBOLS:[A]CRITICALS:CUSTOMERS REQUESTED DIMENSIONS AND SPEC.[B]IMPORTANT:INFLUENCE ON THE FINISHED MACHINES PERFORMANCES AND SPEC.</text>
</g>
</svg>
</body></html>
